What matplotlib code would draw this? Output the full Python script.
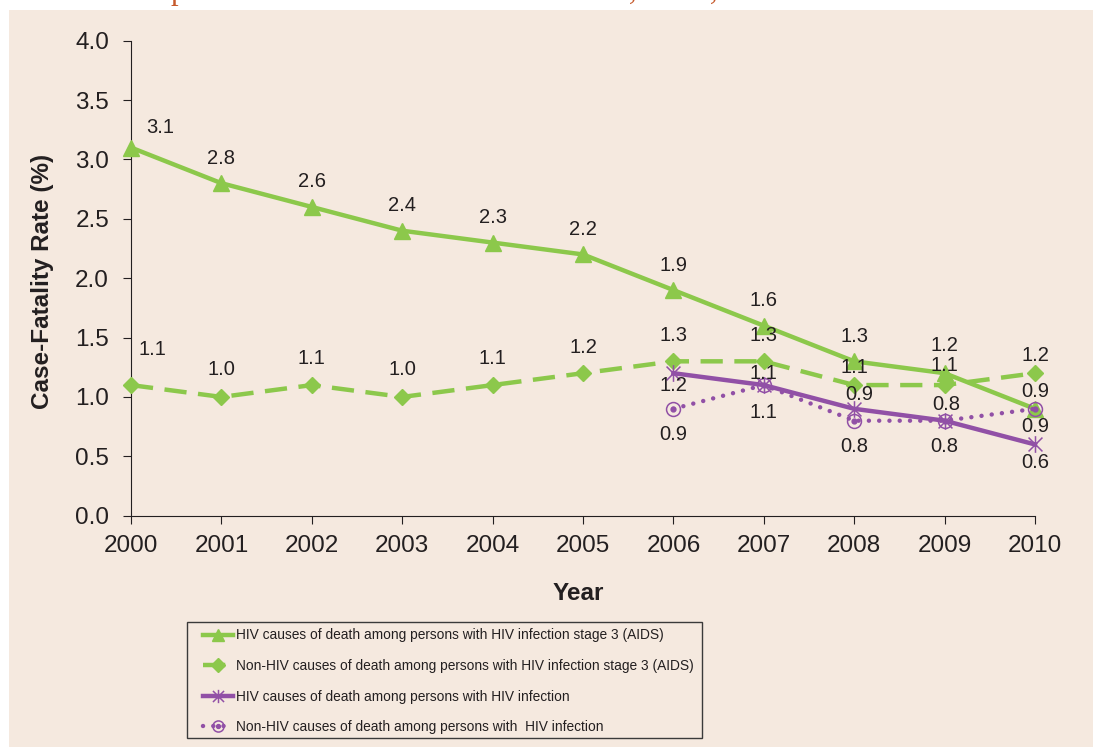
import matplotlib
matplotlib.use("Agg")
import matplotlib.pyplot as plt
from matplotlib.path import Path
from matplotlib.patches import Rectangle
from matplotlib.legend_handler import HandlerTuple

# ---- data -------------------------------------------------------------
years = [2000, 2001, 2002, 2003, 2004, 2005, 2006, 2007, 2008, 2009, 2010]
aids_hiv_causes = [3.1, 2.8, 2.6, 2.4, 2.3, 2.2, 1.9, 1.6, 1.3, 1.2, 0.9]
aids_non_hiv_causes = [1.1, 1.0, 1.1, 1.0, 1.1, 1.2, 1.3, 1.3, 1.1, 1.1, 1.2]

years_hiv = [2006, 2007, 2008, 2009, 2010]
hiv_hiv_causes = [1.2, 1.1, 0.9, 0.8, 0.6]
hiv_non_hiv_causes = [0.9, 1.1, 0.8, 0.8, 0.9]

y_ticks = [0.0, 0.5, 1.0, 1.5, 2.0, 2.5, 3.0, 3.5, 4.0]

series_names = [
    "HIV causes of death among persons with HIV infection stage 3 (AIDS)",
    "Non-HIV causes of death among persons with HIV infection stage 3 (AIDS)",
    "HIV causes of death among persons with HIV infection",
    "Non-HIV causes of death among persons with  HIV infection",
]
x_label = "Year"
y_label = "Case-Fatality Rate (%)"

# ---- styling ----------------------------------------------------------
W, H = 1093, 747
BG = "#F5E9DF"
TXT = "#231F20"
GREEN = "#8CC84B"
PURPLE = "#9150A6"
ORANGE = "#C65A2C"
plt.rcParams["font.family"] = ["Liberation Sans", "DejaVu Sans"]

# data-label offsets in pixels (dx, dy), one per point
off_aids_hiv = [(29, 20)] + [(0, 25)] * 8 + [(0, 28), (0, 17)]
off_aids_non = [(21, 36), (0, 27), (0, 27), (0, 27), (0, 27), (0, 26),
                (0, 26), (0, 26), (0, 18), (0, 20), (0, 18)]
off_hiv_hiv = [(0, -12), (0, 12), (5, 14), (2, 16), (0, -18)]
off_hiv_non = [(0, -26), (0, -27), (0, -26), (0, -26), (0, -18)]

fig = plt.figure(figsize=(W / 100, H / 100), dpi=100, facecolor="white")
fig.patches.append(Rectangle((9 / W, 0), 1 - 9 / W, (H - 10) / H,
                             transform=fig.transFigure, facecolor=BG,
                             edgecolor="none", zorder=-10))

# descenders of the heading line running off the top edge
for px, ch in [(178, "p"), (633, ","), (714, ",")]:
    fig.text(px / W, 1 + 1 / H, ch, ha="center", va="baseline",
             fontsize=22, color=ORANGE, family=["Liberation Serif"],
             style="italic" if ch == "," else "normal")

ax = fig.add_axes([131 / W, 1 - 515.7 / H, 904 / W, 475 / H])
ax.set_facecolor("none")
ax.set_xlim(2000, 2010)
ax.set_ylim(0, 4)

# star marker: X with a vertical bar
star = Path([(-1, -1), (1, 1), (-1, 1), (1, -1), (0, -1.2), (0, 1.2)],
            [Path.MOVETO, Path.LINETO, Path.MOVETO, Path.LINETO,
             Path.MOVETO, Path.LINETO])

l1, = ax.plot(years, aids_hiv_causes, color=GREEN, lw=3.2, marker="^",
              ms=11, clip_on=False, zorder=3)
l2, = ax.plot(years, aids_non_hiv_causes, color=GREEN, lw=3.2,
              ls=(0, (5, 2.6)), marker="D", ms=8.5, clip_on=False, zorder=4)
l3, = ax.plot(years_hiv, hiv_hiv_causes, color=PURPLE, lw=3.2, marker=star,
              ms=12, mew=1.1, mfc="none", mec=PURPLE, clip_on=False, zorder=5)
l4, = ax.plot(years_hiv, hiv_non_hiv_causes, color=PURPLE, lw=3.2,
              ls=(0, (0.01, 2.3)), dash_capstyle="round", marker="o", ms=10,
              mfc="none", mec=PURPLE, mew=1.1, clip_on=False, zorder=6)
l4c, = ax.plot(years_hiv, hiv_non_hiv_causes, ls="none", marker="o", ms=3.5,
               color=PURPLE, clip_on=False, zorder=7)

for xs, ys, offs in [(years, aids_hiv_causes, off_aids_hiv),
                     (years, aids_non_hiv_causes, off_aids_non),
                     (years_hiv, hiv_hiv_causes, off_hiv_hiv),
                     (years_hiv, hiv_non_hiv_causes, off_hiv_non)]:
    for x, y, (dx, dy) in zip(xs, ys, offs):
        ax.annotate(f"{y:.1f}", (x, y), xytext=(dx, dy),
                    textcoords="offset pixels", ha="center", va="center",
                    fontsize=14.5, color=TXT, zorder=10)

ax.set_xticks(years)
ax.set_xticklabels([str(y) for y in years])
ax.set_yticks(y_ticks)
ax.set_yticklabels([f"{v:.1f}" for v in y_ticks])
ax.tick_params(axis="both", direction="out", length=5.8, width=0.8,
               color=TXT, labelcolor=TXT, labelsize=17.5)
ax.tick_params(axis="y", pad=10)
ax.tick_params(axis="x", pad=8)
for s in ("top", "right"):
    ax.spines[s].set_visible(False)
for s in ("left", "bottom"):
    ax.spines[s].set_color(TXT)
    ax.spines[s].set_linewidth(0.8)

fig.text(43 / W, 1 - 281 / H, y_label, rotation=90, ha="center",
         va="center", fontsize=17.5, fontweight="bold", color=TXT)
fig.text(578 / W, 1 - 594 / H, x_label, ha="center", va="center",
         fontsize=17.5, fontweight="bold", color=TXT)

# legend box
fig.patches.append(Rectangle((187 / W, 1 - 738 / H), (702 - 187) / W,
                             (738 - 622) / H, transform=fig.transFigure,
                             facecolor="none", edgecolor="#3A3A3A", lw=1.0))
handles = [l1, l2, l3, (l4, l4c)]
fig.legend(handles, series_names, loc="upper left",
           bbox_to_anchor=(203 / W, 1 - 628.5 / H), frameon=False,
           borderpad=0, borderaxespad=0, handlelength=2.2,
           handletextpad=0.2, labelspacing=1.2, numpoints=1,
           markerscale=0.8,
           prop={"family": ["Liberation Sans"], "size": 9.9},
           labelcolor=TXT,
           handler_map={tuple: HandlerTuple(ndivide=1, pad=0)})

fig.savefig("out.png", dpi=100, facecolor=fig.get_facecolor())
